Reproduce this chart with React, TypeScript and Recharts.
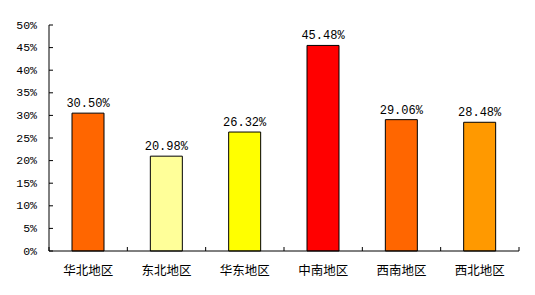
import React from "react";
import { BarChart, Bar, XAxis, YAxis, Cell, LabelList } from "recharts";

const regions = ["华北地区", "东北地区", "华东地区", "中南地区", "西南地区", "西北地区"];
const shares = [30.5, 20.98, 26.32, 45.48, 29.06, 28.48];
const barColors = ["#FF6600", "#FFFF99", "#FFFF00", "#FF0000", "#FF6600", "#FF9900"];
const yTicks = [0, 5, 10, 15, 20, 25, 30, 35, 40, 45, 50];

const NUM_FONT = "'Liberation Mono', 'DejaVu Sans Mono', monospace";
const CJK_FONT = "'Noto Sans CJK SC', sans-serif";

const WIDTH = 535;
const HEIGHT = 295;
const MARGIN = { top: 25, right: 16, bottom: 0, left: 0 };
const Y_AXIS_W = 49;
// width of one category band, used to put tick marks between categories (Excel style)
const BAND = (WIDTH - MARGIN.left - MARGIN.right - Y_AXIS_W) / regions.length;

const data = regions.map((name, i) => ({ name, value: shares[i] }));

const YTick = (props: any) => {
    const { x, y, payload } = props;
    return (
        <g>
            <line x1={x} x2={x + 4} y1={y} y2={y} stroke="#000" />
            <text x={x - 12} y={y} textAnchor="end" dominantBaseline="central"
                fontFamily={NUM_FONT} fontSize={11.5} fill="#000">
                {payload.value}%
            </text>
        </g>
    );
};

const CategoryTick = (props: any) => {
    const { x, y, payload, index } = props;
    const left = x - BAND / 2;
    const right = x + BAND / 2;
    return (
        <g>
            <line x1={left} x2={left} y1={y} y2={y - 4} stroke="#000" />
            {index === regions.length - 1 && (
                <line x1={right} x2={right} y1={y} y2={y - 4} stroke="#000" />
            )}
            <text x={x} y={y + 18} textAnchor="middle" dominantBaseline="central"
                fontFamily={CJK_FONT} fontSize={12.5} fill="#000">
                {payload.value}
            </text>
        </g>
    );
};

export default function App() {
    return (
        <div style={{ position: "absolute", left: 0, top: 0, background: "#fff" }}>
            <BarChart width={WIDTH} height={HEIGHT} data={data} margin={MARGIN}>
                <XAxis
                    dataKey="name"
                    height={44}
                    axisLine={{ stroke: "#000" }}
                    tickLine={false}
                    tickSize={0}
                    tickMargin={0}
                    tick={<CategoryTick />}
                    interval={0}
                />
                <YAxis
                    width={Y_AXIS_W}
                    domain={[0, 50]}
                    ticks={yTicks}
                    axisLine={{ stroke: "#000" }}
                    tickLine={false}
                    tickSize={0}
                    tickMargin={0}
                    tick={<YTick />}
                    interval={0}
                />
                <Bar dataKey="value" barSize={32} stroke="#000" strokeWidth={1} isAnimationActive={false}>
                    {data.map((d, i) => (
                        <Cell key={d.name} fill={barColors[i]} />
                    ))}
                    <LabelList
                        dataKey="value"
                        position="top"
                        offset={6}
                        formatter={(v: any) => `${Number(v).toFixed(2)}%`}
                        fill="#000"
                        fontSize={12}
                        fontFamily={NUM_FONT}
                    />
                </Bar>
            </BarChart>
        </div>
    );
}
